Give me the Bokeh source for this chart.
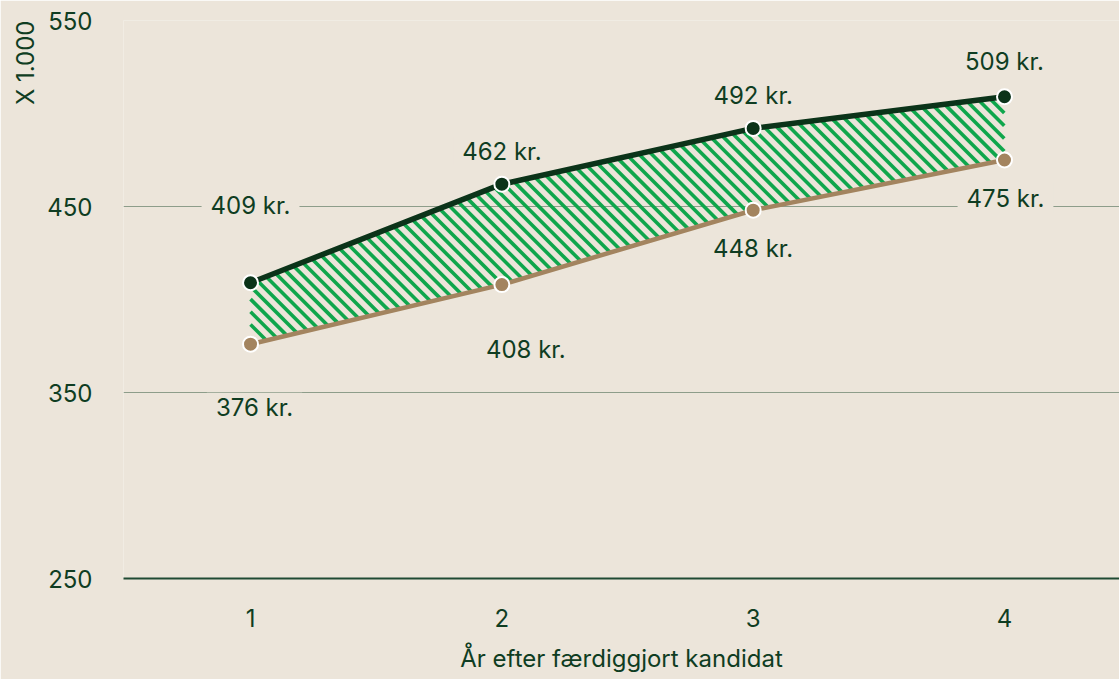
import numpy as np
from bokeh.plotting import figure
from bokeh.models import Range1d, FixedTicker, Label, ColumnDataSource, Title
from bokeh.embed import file_html
from bokeh.resources import INLINE

# ---- data ----
years = [1, 2, 3, 4]
upper = [409, 462, 492, 509]
lower = [376, 408, 448, 475]
upper_labels = ["409 kr.", "462 kr.", "492 kr.", "509 kr."]
lower_labels = ["376 kr.", "408 kr.", "448 kr.", "475 kr."]
y_ticks = [250, 350, 450, 550]
x_title = "År efter færdiggjort kandidat"
y_title = "X 1.000"

# ---- styling ----
BG = "#ece5da"
TXT = "#0f3d22"
FONT = "Inter"
UP_COL = "#0b3319"
LO_COL = "#a3845f"
HATCH = "#0fa64c"
GRID = "#8d9d8a"
AXIS = "#1f4a33"
FS = "24px"

# label offsets (pixels): (dx, dy) with dy positive = up
upper_off = [(0, 77), (0, 33), (0, 33), (0, 35)]
lower_off = [(4, -63), (24, -65), (0, -38), (1, -38)]

W, H = 1119, 679
BL, BR, BT, BB = 123, 0, 20, 101
FRAME_W, FRAME_H = W - BL - BR, H - BT - BB
X0, X1 = 0.4946, 4.4576
Y0, Y1 = 250, 550

p = figure(width=W, height=H, output_backend="svg", toolbar_location=None,
           x_range=Range1d(X0, X1), y_range=Range1d(Y0, Y1),
           min_border_left=BL, min_border_right=BR, min_border_top=BT,
           min_border_bottom=BB)
p.background_fill_color = BG
p.border_fill_color = BG
p.outline_line_color = None

# grid
p.xgrid.grid_line_color = None
p.ygrid.grid_line_color = GRID
p.ygrid.grid_line_width = 1
p.ygrid.ticker = FixedTicker(ticks=y_ticks)

# axes
p.yaxis.ticker = FixedTicker(ticks=y_ticks)
p.yaxis.axis_line_color = None
p.yaxis.major_tick_line_color = None
p.yaxis.minor_tick_line_color = None
p.yaxis.major_label_standoff = 25
p.yaxis.major_label_text_font = FONT
p.yaxis.major_label_text_font_size = FS
p.yaxis.major_label_text_color = TXT

p.xaxis.ticker = FixedTicker(ticks=years)
p.xaxis.axis_line_color = AXIS
p.xaxis.axis_line_width = 2
p.xaxis.major_tick_line_color = None
p.xaxis.minor_tick_line_color = None
p.xaxis.major_label_standoff = 24
p.xaxis.major_label_text_font = FONT
p.xaxis.major_label_text_font_size = FS
p.xaxis.major_label_text_color = TXT
p.xaxis.axis_label = x_title
p.xaxis.axis_label_text_font = FONT
p.xaxis.axis_label_text_font_style = "normal"
p.xaxis.axis_label_text_font_size = FS
p.xaxis.axis_label_text_color = TXT
p.xaxis.axis_label_standoff = 14

src = ColumnDataSource(dict(x=years, up=upper, lo=lower))

# ---- 45-degree "\" stripes clipped to the band between the two series ----
STRIPE = 12.7  # horizontal spacing in px
sx = FRAME_W / (X1 - X0)
sy = FRAME_H / (Y1 - Y0)
px = np.arange((years[0] - X0) * sx, (years[-1] - X0) * sx + 0.01, 0.25)
xd = X0 + px / sx
lo_p = (np.interp(xd, years, lower) - Y0) * sy
up_p = (np.interp(xd, years, upper) - Y0) * sy
cmin, cmax = (px + lo_p).min(), (px + up_p).max()
sxs, sys_ = [], []
for c in np.arange(np.floor(cmin / STRIPE) * STRIPE, cmax + STRIPE, STRIPE):
    yp = c - px
    idx = np.flatnonzero((yp >= lo_p) & (yp <= up_p))
    if idx.size < 2:
        continue
    br = np.flatnonzero(np.diff(idx) > 1)
    starts = np.r_[idx[0], idx[br + 1]]
    ends = np.r_[idx[br], idx[-1]]
    for s, e in zip(starts, ends):
        if e > s:
            sxs.append([xd[s], xd[e]])
            sys_.append([Y0 + yp[s] / sy, Y0 + yp[e] / sy])
p.multi_line(sxs, sys_, line_color=HATCH, line_width=3.6)

# lines
p.line("x", "lo", source=src, line_color=LO_COL, line_width=4.5)
p.line("x", "up", source=src, line_color=UP_COL, line_width=5.5)

# markers
p.scatter("x", "lo", source=src, size=15, fill_color=LO_COL, line_color="white", line_width=2)
p.scatter("x", "up", source=src, size=15, fill_color=UP_COL, line_color="white", line_width=2)

# value labels (background masks the grid lines only)
for xs, ys, texts, offs in [(years, upper, upper_labels, upper_off),
                            (years, lower, lower_labels, lower_off)]:
    for xv, yv, t, (dx, dy) in zip(xs, ys, texts, offs):
        p.add_layout(Label(x=xv, y=yv, text=t, x_offset=dx, y_offset=dy,
                           text_align="center", text_baseline="middle",
                           text_font=FONT, text_font_size=FS, text_color=TXT,
                           background_fill_color=BG,
                           padding=dict(left=9, right=9, top=0, bottom=0)))

# y title (rotated, at top-left)
p.add_layout(Title(text=y_title, align="right", offset=0,
                   text_font=FONT, text_font_size="24px", text_font_style="normal",
                   text_color=TXT), "left")

open("out.html", "w").write(file_html(p, INLINE))
